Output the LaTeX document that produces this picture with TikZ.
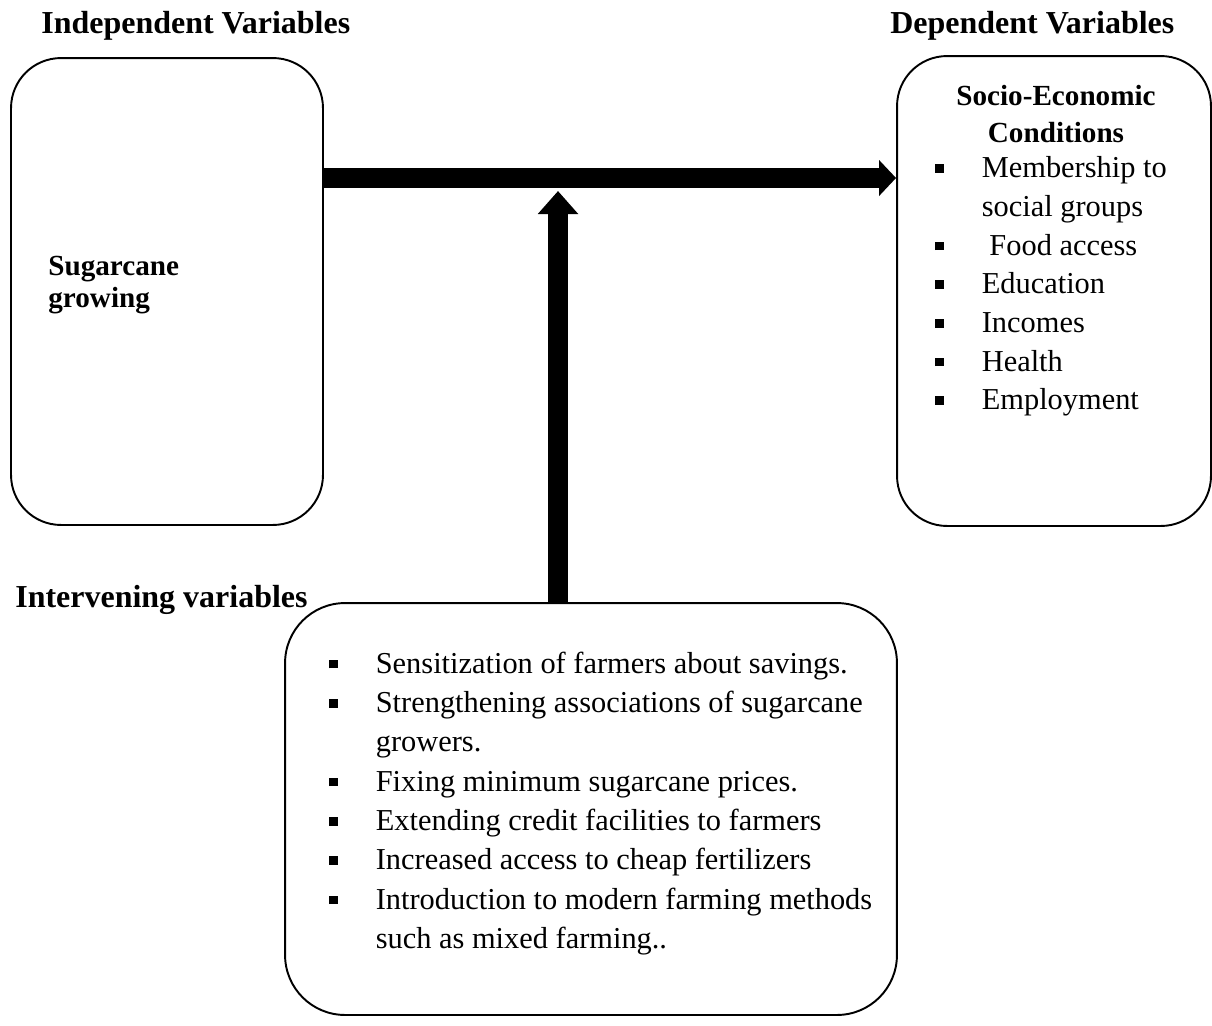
\documentclass[tikz,border=0pt]{standalone}
\usepackage{fontspec}
\setmainfont{Liberation Serif}
\usetikzlibrary{arrows.meta}
\newcommand{\bul}{\makebox[0.93cm][l]{\rule[0.1cm]{0.17cm}{0.17cm}}}
\newcommand{\cont}{\hspace*{0.93cm}}
\tikzset{
  varbox/.style={draw, line width=1.1pt, rounded corners=1cm, inner sep=0pt},
  head/.style={font=\bfseries\fontsize{18.2}{21}\selectfont, inner sep=0pt},
  listtext/.style={font=\fontsize{17.3}{22.36}\selectfont, align=left, inner sep=0pt, anchor=north west},
  fatline/.style={line width=0.4cm},
}
\begin{document}
\begin{tikzpicture}[x=0.02cm, y=-0.02cm]
\useasboundingbox (0,0) rectangle (1212,1025);

\node[varbox, minimum width=6.24cm, minimum height=9.34cm] (indep) at (167,291.5) {};
\node[varbox, minimum width=6.28cm, minimum height=9.4cm] (dep) at (1054,291) {};
\node[varbox, rounded corners=1.2cm, minimum width=12.24cm, minimum height=8.24cm] (inter) at (591,809) {};

\node[head, anchor=base west] (indeptitle) at (41,33) {Independent Variables};
\node[head, anchor=base west] (deptitle) at (890,33) {Dependent Variables};
\node[head, anchor=base west] (intertitle) at (15,607) {Intervening variables};

\node[head, align=left, anchor=north west, font=\bfseries\fontsize{16.6}{18.2}\selectfont] (cane) at (48,252.5) {\strut Sugarcane\\growing};
\node[head, align=center, anchor=north, font=\bfseries\fontsize{16.6}{21}\selectfont] (socio) at (1056,79.1) {\strut Socio-Economic\\Conditions};

\node[listtext, font=\fontsize{17.3}{22}\selectfont] (conditions) at (935,150.5) {\strut\bul Membership to\\
  \cont social groups\\
  \bul\ Food access\\
  \bul Education\\
  \bul Incomes\\
  \bul Health\\
  \bul Employment};

\node[listtext] (measures) at (329,645.5) {\strut\bul Sensitization of farmers about savings.\\
  \bul Strengthening associations of sugarcane\\
  \cont growers.\\
  \bul Fixing minimum sugarcane prices.\\
  \bul Extending credit facilities to farmers\\
  \bul Increased access to cheap fertilizers\\
  \bul Introduction to modern farming methods\\
  \cont such as mixed farming..};

\coordinate (mid) at (558,178);
\coordinate (tip) at (558,191);
\draw[fatline, -{Triangle[length=0.34cm, width=0.7cm]}] (indep.east |- mid) -- (dep.west |- mid);
\draw[fatline, -{Triangle[length=0.46cm, width=0.78cm]}] (inter.north -| tip) -- (tip);
\end{tikzpicture}
\end{document}
